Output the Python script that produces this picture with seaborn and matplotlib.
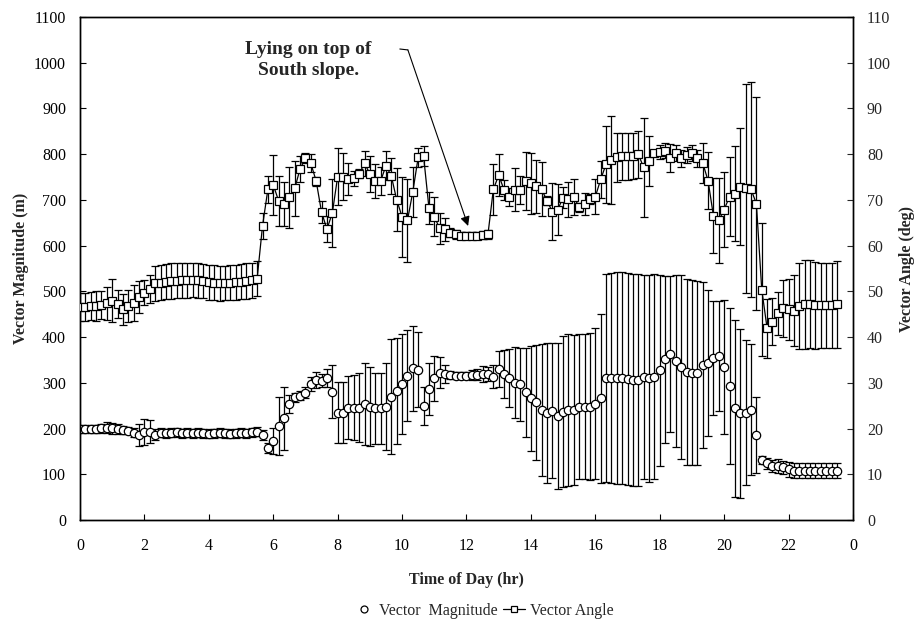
import numpy as np
import matplotlib
matplotlib.use("Agg")
import matplotlib.pyplot as plt
import seaborn as sns
import pandas as pd
from matplotlib.lines import Line2D

# ---- data: 10-minute samples over the day ----
time_hr = np.arange(142) / 6.0

magnitude = [
    199, 199, 199, 199, 201, 202, 201, 199, 197, 195,
    191, 186, 193, 193, 186,
    191, 190, 191, 192, 190, 191, 190, 191, 190, 189, 190, 191, 190, 189, 190, 191, 190, 192, 193,
    186, 157, 173, 206, 222, 254, 268, 272, 278, 297, 306, 305, 310, 280, 235, 235, 246, 246, 246,
    254, 248, 244, 244, 248, 270, 282, 297, 316, 332, 329, 249, 286, 310, 322, 319,
    317, 316, 316, 316, 317, 318, 319, 319, 313,
    330, 319, 310, 300, 297, 279, 266, 257, 241, 233, 239, 227, 237, 241, 241, 248, 248, 248, 254, 266,
    311, 311, 311, 311, 308, 306, 306, 313, 310, 313, 327, 351, 363, 348, 335, 324, 322, 322, 339, 343,
    354, 359, 334, 293, 244, 233, 235, 241, 186,
    131, 124, 118, 118, 115, 111, 108, 108, 108, 108, 108, 108, 108, 108, 108,
]
magnitude_err = [
    8, 8, 8, 8, 10, 12, 12, 10, 8, 8,
    10, 25, 28, 25, 12,
    10, 10, 10, 10, 10, 10, 10, 10, 10, 10, 10, 10, 10, 10, 10, 10, 10, 10, 10,
    10, 11, 28, 64, 69, 20, 9, 10, 12, 15, 18, 15, 20, 58, 66, 66, 69, 71, 76,
    90, 87, 78, 78, 95, 126, 116, 109, 100, 93, 82, 42, 57, 49, 34, 20,
    8, 8, 8, 8, 10, 12, 17, 15, 25,
    39, 52, 63, 78, 80, 98, 115, 126, 144, 153, 147, 159, 165, 166, 164, 158, 159, 160, 165, 184,
    228, 230, 232, 232, 232, 232, 232, 223, 226, 224, 209, 183, 171, 188, 201, 204, 202, 201, 182, 159,
    125, 120, 147, 171, 194, 184, 159, 143, 84,
    9, 12, 14, 15, 15, 16, 17, 17, 17, 17, 17, 17, 17, 17, 17,
]
angle = [
    46.6, 46.6, 46.8, 46.8, 47.0, 47.4, 48.0, 47.2, 46.1, 46.8, 47.4, 48.7, 49.7, 50.5, 51.8,
    51.9, 52.1, 52.2, 52.3, 52.4, 52.4, 52.5, 52.4, 52.3, 52.0, 51.9, 51.8, 51.9, 51.9, 52.0,
    52.1, 52.2, 52.4, 52.8,
    64.3, 72.3, 73.3, 69.8, 69.1, 70.6, 72.5, 76.8, 79.1, 78.0, 74.1, 67.3, 63.6, 67.1, 75.1,
    75.1, 74.5, 74.7, 75.7, 78.0, 75.7, 74.1, 74.1, 77.5, 75.2, 70.0, 66.3, 65.5, 71.8, 79.3,
    79.6, 68.3, 66.3, 63.8, 63.6,
    62.8, 62.5, 62.2, 62.2, 62.2, 62.2, 62.3, 62.5,
    72.3, 75.4, 72.2, 70.7, 72.2, 72.2, 74.1, 73.6, 73.0, 72.3, 69.8, 67.4, 67.9, 70.5, 70.1,
    70.6, 68.4, 69.2, 70.1, 70.7, 74.5,
    77.8, 78.7, 79.3, 79.5, 79.5, 79.6, 80.0, 77.1, 78.5, 80.2, 80.5, 80.8, 79.2, 80.2, 79.1,
    79.8, 80.3, 79.1, 78.1, 74.2, 66.5, 65.5, 67.9, 70.7, 71.4, 72.9, 72.5, 72.3, 69.2,
    50.4, 41.9, 43.4, 45.2, 46.3, 46.1, 45.8, 46.8, 47.2, 47.2, 47.0, 47.0, 47.0, 47.0, 47.2,
]
angle_err = [
    3.1, 3.1, 3.1, 3.3, 3.1, 3.6, 4.7, 3.1, 3.4, 3.5, 3.9, 3.5, 2.7, 3.0, 3.8,
    3.8, 3.8, 3.9, 3.8, 3.8, 3.9, 3.8, 3.8, 3.7, 3.8, 3.8, 3.8, 3.7, 3.8, 3.8,
    3.8, 3.9, 3.8, 3.9,
    2.8, 3.0, 6.6, 5.5, 4.9, 6.7, 6.0, 2.9, 1.1, 2.0, 1.0, 2.4, 2.8, 7.4, 6.2,
    5.2, 3.5, 1.7, 1.0, 2.7, 4.0, 3.7, 3.0, 3.1, 4.0, 6.9, 8.7, 9.1, 5.5, 2.0,
    2.2, 3.5, 4.3, 3.4, 2.5,
    1.0, 1.0, 0.8, 0.8, 0.8, 0.8, 0.8, 1.0,
    5.6, 4.6, 2.2, 2.0, 4.7, 3.0, 6.4, 6.6, 5.8, 5.9, 1.0, 6.2, 5.5, 2.3, 3.8,
    3.9, 1.0, 2.4, 1.1, 3.8, 4.0,
    8.4, 9.6, 5.3, 5.1, 5.1, 5.1, 5.1, 10.9, 5.5, 0.7, 1.6, 1.6, 3.0, 1.8, 1.8,
    1.8, 1.8, 1.8, 4.4, 6.2, 8.2, 9.4, 8.2, 8.6, 10.3, 12.8, 22.9, 23.5, 23.3,
    14.6, 6.5, 5.1, 4.7, 6.2, 6.7, 7.8, 9.3, 9.7, 9.6, 9.5, 9.3, 9.3, 9.3, 9.5,
]

x_ticks = list(range(0, 25, 2))
x_tick_labels = ["0", "2", "4", "6", "8", "10", "12", "14", "16", "18", "20", "22", "0"]

df = pd.DataFrame({"time": time_hr, "magnitude": magnitude, "mag_err": magnitude_err,
                   "angle": angle, "angle_err": angle_err})

# ---- styling ----
sns.set_style("white")
plt.rcParams["font.family"] = ["Liberation Serif", "DejaVu Serif"]

fig = plt.figure(figsize=(9.19, 6.26), dpi=100)
ax = fig.add_axes([80 / 919, 1 - 520 / 626, (853 - 80) / 919, (520 - 17) / 626])
ax2 = ax.twinx()

# magnitude on the left axis: open circles with symmetric error bars
ax.errorbar(df["time"], df["magnitude"], yerr=df["mag_err"], fmt="none",
            ecolor="black", elinewidth=0.9, capsize=2.6, capthick=0.9, zorder=2)
sns.scatterplot(data=df, x="time", y="magnitude", ax=ax, marker="o", s=36,
                facecolor="white", edgecolor="black", linewidth=0.9, zorder=3, legend=False)

# angle on the right axis: squares joined by a line
ax2.errorbar(df["time"], df["angle"], yerr=df["angle_err"], fmt="none",
             ecolor="black", elinewidth=0.9, capsize=2.6, capthick=0.9, zorder=2)
sns.lineplot(data=df, x="time", y="angle", ax=ax2, color="black", linewidth=0.9,
             marker="s", markersize=6, markerfacecolor="white", markeredgecolor="black",
             markeredgewidth=0.9, zorder=3, legend=False)

# ---- axes ----
ax.set_xlim(0, 24)
ax.set_ylim(0, 1100)
ax2.set_ylim(0, 110)
ax.set_xticks(x_ticks)
ax.set_xticklabels(x_tick_labels)
ax.set_yticks(range(0, 1101, 100))
ax2.set_yticks(range(0, 111, 10))

for a in (ax, ax2):
    for s in a.spines.values():
        s.set_visible(True)
        s.set_color("black")
        s.set_linewidth(1.0)
ax.tick_params(axis="both", direction="in", length=4, width=0.8, labelsize=11.5,
               colors="black", pad=10)
ax.tick_params(axis="y", left=True)
ax.tick_params(axis="x", bottom=True, pad=13)
ax2.tick_params(axis="y", direction="in", length=4, width=0.8, labelsize=11.5,
                right=True, pad=10)

ax.set_xlabel("Time of Day (hr)", fontsize=11.5, fontweight="bold", labelpad=13)
ax.set_ylabel("Vector Magnitude (m)", fontsize=11.5, fontweight="bold", labelpad=4)
ax2.set_ylabel("Vector Angle (deg)", fontsize=11.5, fontweight="bold", labelpad=6)
ax.grid(False)
ax2.grid(False)

# ---- annotation ----
ax.text(7.1, 1030, "Lying on top of", ha="center", va="center",
        fontsize=14, fontweight="bold")
ax.text(7.1, 984, "South slope.", ha="center", va="center",
        fontsize=14, fontweight="bold")
ax.plot([9.93, 10.18], [1030, 1028], color="black", lw=0.8, zorder=4)
ax.annotate("", xy=(12.05, 643), xytext=(10.18, 1028),
            arrowprops=dict(arrowstyle="-|>", color="black", lw=0.8,
                            mutation_scale=14, shrinkA=0, shrinkB=0))

# ---- legend ----
handles = [
    Line2D([], [], marker="o", linestyle="none", markersize=5,
           markerfacecolor="white", markeredgecolor="black", markeredgewidth=0.9),
    Line2D([], [], marker="s", color="black", linewidth=0.9, markersize=5,
           markerfacecolor="white", markeredgecolor="black", markeredgewidth=0.9),
]
fig.legend(handles, ["Vector  Magnitude", "Vector Angle"], loc="center",
           bbox_to_anchor=(483 / 919, 1 - 611 / 626), ncol=2, frameon=False,
           fontsize=11.5, handlelength=1.4, handletextpad=0.3, columnspacing=0.3)

fig.savefig("out.png", dpi=100)
